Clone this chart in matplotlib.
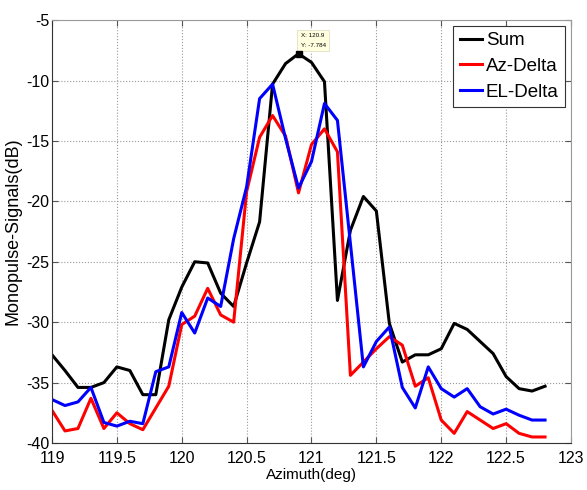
import matplotlib.pyplot as plt
import numpy as np

plt.rcParams['font.family'] = ['Liberation Sans', 'DejaVu Sans']
plt.rcParams['axes.unicode_minus'] = False

# azimuth grid (deg)
azimuth = np.round(np.arange(119.0, 122.85, 0.1), 1)

# Sum channel (dB)
sum_db = [-32.7, -34.0, -35.4, -35.4, -35.0, -33.7, -34.0, -36.0, -36.0, -29.8,
          -27.1, -25.0, -25.1, -27.6, -28.7, -25.1, -21.7, -10.3, -8.6, -7.784,
          -8.5, -10.1, -28.2, -22.4, -19.6, -20.8, -30.1, -33.3, -32.7, -32.7,
          -32.2, -30.1, -30.6, -31.6, -32.6, -34.5, -35.5, -35.7, -35.3]

# Az-Delta channel (dB)
az_db = [-37.3, -39.0, -38.8, -36.3, -38.8, -37.5, -38.4, -38.9, -37.1, -35.3,
         -30.2, -29.5, -27.2, -29.4, -30.0, -19.2, -14.7, -12.9, -14.6, -19.3,
         -15.3, -14.0, -15.9, -34.4, -33.3, -32.2, -31.2, -31.9, -35.3, -34.6,
         -38.1, -39.2, -37.4, -38.1, -38.8, -38.4, -39.2, -39.5, -39.5]

# EL-Delta channel (dB)
el_db = [-36.4, -36.9, -36.6, -35.4, -38.3, -38.6, -38.2, -38.4, -34.1, -33.7,
         -29.2, -30.9, -28.0, -28.7, -23.1, -18.8, -11.5, -10.3, -14.8, -18.9,
         -16.7, -11.9, -13.3, -23.5, -33.7, -31.6, -30.4, -35.4, -37.1, -33.7,
         -35.5, -36.2, -35.5, -37.0, -37.6, -37.2, -37.7, -38.1, -38.1]

peak_x = 120.9
peak_y = -7.784

fig = plt.figure(figsize=(5.87, 4.9), dpi=100)
ax = fig.add_axes([0.0886, 0.0959, 0.8841, 0.8631])

ax.plot(azimuth, sum_db, color='black', lw=2.2, label='Sum')
ax.plot(azimuth, az_db, color='#ff0000', lw=2.2, label='Az-Delta')
ax.plot(azimuth, el_db, color='#0000ff', lw=2.2, label='EL-Delta')

# data tip at the peak
ax.plot([peak_x], [peak_y], marker='s', color='black', ms=4, zorder=5)
ax.annotate('X: 120.9\nY: -7.784', xy=(peak_x, peak_y), xytext=(2, 6),
             textcoords='offset pixels', ha='left', va='bottom', fontsize=4.5,
             linespacing=2.2,
             bbox=dict(boxstyle='square,pad=0.5', fc='#ffffe0', ec='#e0e0c8', lw=0.6))

ax.set_xlim(119, 123)
ax.set_ylim(-40, -5)
ax.set_xticks(np.arange(119, 123.01, 0.5))
ax.set_xticklabels(['119', '119.5', '120', '120.5', '121', '121.5', '122', '122.5', '123'])
ax.set_yticks(np.arange(-40, -4, 5))
ax.tick_params(direction='in', top=True, right=True, labelsize=11.5, length=4,
               color='#555555')
ax.tick_params(axis='x', pad=6)
ax.tick_params(axis='y', pad=2)
ax.grid(True, linestyle=':', color='#999999', lw=0.8)

for s in ['top', 'right']:
    ax.spines[s].set_color('#999999')
for s in ['left', 'bottom']:
    ax.spines[s].set_color('#333333')

ax.set_xlabel('Azimuth(deg)', fontsize=11, labelpad=1)
ax.set_ylabel('Monopulse-Signals(dB)', fontsize=13, labelpad=3)

leg = ax.legend(loc='upper right', fontsize=13.5, handlelength=1.2, handletextpad=0.2,
                borderpad=0.35, labelspacing=0.45, fancybox=False, framealpha=1,
                borderaxespad=0.3)
leg.get_frame().set_edgecolor('#333333')
leg.get_frame().set_linewidth(0.8)

fig.savefig('out.png', dpi=100)
